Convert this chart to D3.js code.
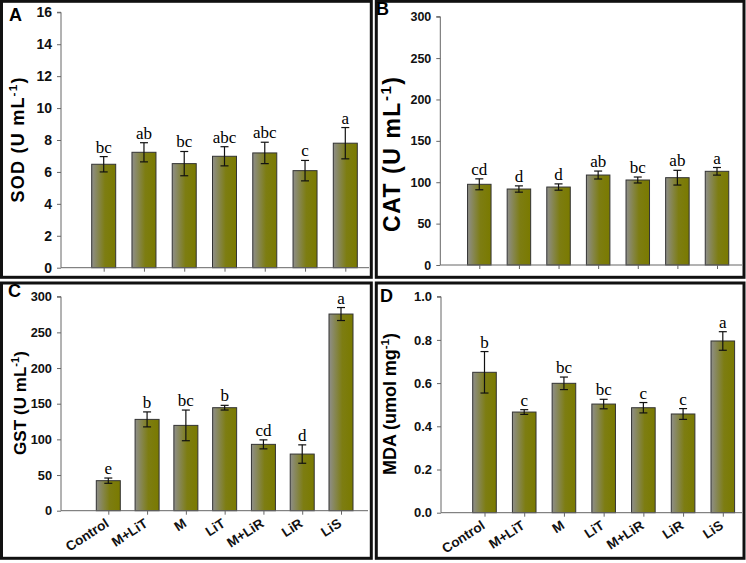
<!DOCTYPE html>
<html>
<head>
<meta charset="utf-8">
<script src="https://cdn.jsdelivr.net/npm/d3@7"></script>
<style>
  body { margin: 0; background: #fff; }
  svg { display: block; }
</style>
</head>
<body>
<script>
"use strict";

const w = 746;
const h = 563;

//Treatments (same for all four panels)
const categories = ["Control", "M+LiT", "M", "LiT", "M+LiR", "LiR", "LiS"];

//A - SOD
const sodMean = [6.48, 7.23, 6.52, 6.98, 7.19, 6.08, 7.8];
const sodErr = [0.48, 0.6, 0.76, 0.6, 0.67, 0.64, 0.98];
const sodLetters = ["bc", "ab", "bc", "abc", "abc", "c", "a"];
const sodTicks = [0, 2, 4, 6, 8, 10, 12, 14, 16];

//B - CAT
const catMean = [97.5, 91.8, 94.2, 108.7, 102.7, 105.5, 113.2];
const catErr = [6.6, 3.8, 3.8, 4.8, 3.6, 8.9, 4.6];
const catLetters = ["cd", "d", "d", "ab", "bc", "ab", "a"];
const catTicks = [0, 50, 100, 150, 200, 250, 300];

//C - GST
const gstMean = [42.1, 128, 119.6, 144.4, 93, 79.4, 275.7];
const gstErr = [3.7, 10.5, 21.5, 3.3, 6.3, 12.9, 9.1];
const gstLetters = ["e", "b", "bc", "b", "cd", "d", "a"];
const gstTicks = [0, 50, 100, 150, 200, 250, 300];

//D - MDA
const mdaMean = [0.65, 0.466, 0.599, 0.503, 0.486, 0.457, 0.795];
const mdaErr = [0.096, 0.011, 0.029, 0.022, 0.024, 0.025, 0.043];
const mdaLetters = ["b", "c", "bc", "bc", "c", "c", "a"];
const mdaTicks = [0, 0.2, 0.4, 0.6, 0.8, 1.0];

const svg = d3.select("body").append("svg").attr("width", w).attr("height", h);

//bar fill: grey on the left fading into olive
const grad = svg.append("defs").append("linearGradient").attr("id", "barGrad")
  .attr("x1", "0%").attr("x2", "100%").attr("y1", "0%").attr("y2", "0%");
grad.append("stop").attr("offset", "0%").attr("stop-color", "#8e8e8a");
grad.append("stop").attr("offset", "55%").attr("stop-color", "#7d7d12");
grad.append("stop").attr("offset", "100%").attr("stop-color", "#7a7a00");

//layout of each panel (page coordinates)
const panels = [
  { letter: "A", mean: sodMean, err: sodErr, letters: sodLetters, ticks: sodTicks, fmt: d3.format("d"),
    box: [1.5, 1.3, 371.3, 277.3], axisX: 61, y0: 267.7, yTop: 12.3, c1: 103.7, c7: 345.3, barW: 24, xEnd: 369,
    title: "SOD (U mL", titleX: 24, titleY: 140, titleSize: 18, titleLen: 125, tickSize: 14,
    letterX: 9, letterY: 21, showX: false },
  { letter: "B", mean: catMean, err: catErr, letters: catLetters, ticks: catTicks, fmt: d3.format("d"),
    box: [376.3, 1.3, 744, 277.3], axisX: 440.3, y0: 265, yTop: 16.7, c1: 479.3, c7: 717, barW: 23.5, xEnd: 742,
    title: "CAT (U mL", titleX: 400, titleY: 154.5, titleSize: 23, titleLen: 155, tickSize: 12.5,
    letterX: 376, letterY: 15, showX: false },
  { letter: "C", mean: gstMean, err: gstErr, letters: gstLetters, ticks: gstTicks, fmt: d3.format("d"),
    box: [1.5, 283, 371.3, 558.3], axisX: 61, y0: 510.7, yTop: 296.7, c1: 108.3, c7: 341, barW: 24, xEnd: 368,
    title: "GST (U mL", titleX: 26, titleY: 403, titleSize: 17, titleLen: 104, tickSize: 12.8,
    letterX: 8, letterY: 297, showX: true },
  { letter: "D", mean: mdaMean, err: mdaErr, letters: mdaLetters, ticks: mdaTicks, fmt: d3.format(".1f"),
    box: [376.3, 283, 744, 558.3], axisX: 441, y0: 512.7, yTop: 296.7, c1: 484.5, c7: 722.8, barW: 23.6, xEnd: 742,
    title: "MDA (umol mg", titleX: 396, titleY: 404, titleSize: 18, titleLen: 142, tickSize: 13,
    letterX: 380, letterY: 302, showX: true }
];

const drawPanel = (p) => {
  const g = svg.append("g").attr("class", "panel");
  const yMax = p.ticks[p.ticks.length - 1];

  const xScale = d3.scalePoint().domain(categories).range([p.c1, p.c7]);
  const yScale = d3.scaleLinear().domain([0, yMax]).range([p.y0, p.yTop]);

  const data = categories.map((c, i) => ({ cat: c, v: p.mean[i], e: p.err[i], l: p.letters[i] }));

  //frame
  g.append("rect")
    .attr("x", p.box[0]).attr("y", p.box[1])
    .attr("width", p.box[2] - p.box[0]).attr("height", p.box[3] - p.box[1])
    .attr("fill", "none").attr("stroke", "#111").attr("stroke-width", 3);

  //panel letter
  g.append("text")
    .attr("x", p.letterX).attr("y", p.letterY)
    .attr("font-family", "Liberation Sans, Arial, sans-serif")
    .attr("font-weight", "bold").attr("font-size", 18)
    .text(p.letter);

  //bars
  g.selectAll("rect.bar").data(data).enter().append("rect")
    .attr("class", "bar")
    .attr("x", (d) => xScale(d.cat) - p.barW / 2)
    .attr("y", (d) => yScale(d.v))
    .attr("width", p.barW)
    .attr("height", (d) => p.y0 - yScale(d.v))
    .attr("fill", "url(#barGrad)")
    .attr("stroke", "#333").attr("stroke-width", 1);

  //error bars
  const eb = g.selectAll("g.err").data(data).enter().append("g").attr("class", "err")
    .attr("stroke", "#111").attr("stroke-width", 1.2);
  eb.append("line")
    .attr("x1", (d) => xScale(d.cat)).attr("x2", (d) => xScale(d.cat))
    .attr("y1", (d) => yScale(d.v - d.e)).attr("y2", (d) => yScale(d.v + d.e));
  eb.append("line")
    .attr("x1", (d) => xScale(d.cat) - 4).attr("x2", (d) => xScale(d.cat) + 4)
    .attr("y1", (d) => yScale(d.v + d.e)).attr("y2", (d) => yScale(d.v + d.e));
  eb.append("line")
    .attr("x1", (d) => xScale(d.cat) - 4).attr("x2", (d) => xScale(d.cat) + 4)
    .attr("y1", (d) => yScale(d.v - d.e)).attr("y2", (d) => yScale(d.v - d.e));

  //significance letters
  g.selectAll("text.sig").data(data).enter().append("text")
    .attr("class", "sig")
    .attr("x", (d) => xScale(d.cat))
    .attr("y", (d) => yScale(d.v + d.e) - 4)
    .attr("text-anchor", "middle")
    .attr("font-family", "Liberation Serif, Times New Roman, serif")
    .attr("font-size", 17)
    .text((d) => d.l);

  //y axis
  const yAxis = d3.axisLeft(yScale).tickValues(p.ticks).tickFormat(p.fmt).tickSize(4).tickPadding(5);
  g.append("g")
    .attr("transform", `translate(${p.axisX}, 0)`)
    .call(yAxis)
    .call((a) => a.select(".domain").attr("stroke", "#666").attr("d", `M-4,${p.yTop}H0V${p.y0}`))
    .call((a) => a.selectAll(".tick line").attr("stroke", "#666"))
    .call((a) => a.selectAll(".tick text")
      .attr("font-family", "Liberation Sans, Arial, sans-serif")
      .attr("font-weight", "bold").attr("font-size", p.tickSize).attr("fill", "#111"));

  //x axis
  const xAxis = d3.axisBottom(xScale).tickSize(4).tickFormat(p.showX ? null : "");
  g.append("g")
    .attr("transform", `translate(0, ${p.y0})`)
    .call(xAxis)
    .call((a) => a.select(".domain").attr("stroke", "#666").attr("d", `M${p.axisX},0H${p.xEnd}`))
    .call((a) => a.selectAll(".tick line").attr("stroke", "#666"))
    .call((a) => a.selectAll(".tick text")
      .attr("font-family", "Liberation Sans, Arial, sans-serif")
      .attr("font-weight", "bold").attr("font-size", 13.5).attr("fill", "#111")
      .attr("text-anchor", "end")
      .attr("dy", 0)
      .attr("transform", "translate(1, 15) rotate(-33)")
      .attr("y", 0).attr("x", 0));

  //y title with superscript
  const t = g.append("text")
    .attr("transform", `translate(${p.titleX}, ${p.titleY}) rotate(-90)`)
    .attr("text-anchor", "middle")
    .attr("font-family", "Liberation Sans, Arial, sans-serif")
    .attr("font-weight", "bold").attr("font-size", p.titleSize)
    .attr("textLength", p.titleLen).attr("lengthAdjust", "spacing");
  t.append("tspan").text(p.title);
  t.append("tspan").attr("font-size", p.titleSize * 0.65).attr("dy", -p.titleSize * 0.4).text("-1");
  t.append("tspan").attr("dy", p.titleSize * 0.4).text(")");
};

panels.forEach(drawPanel);
</script>
</body>
</html>
